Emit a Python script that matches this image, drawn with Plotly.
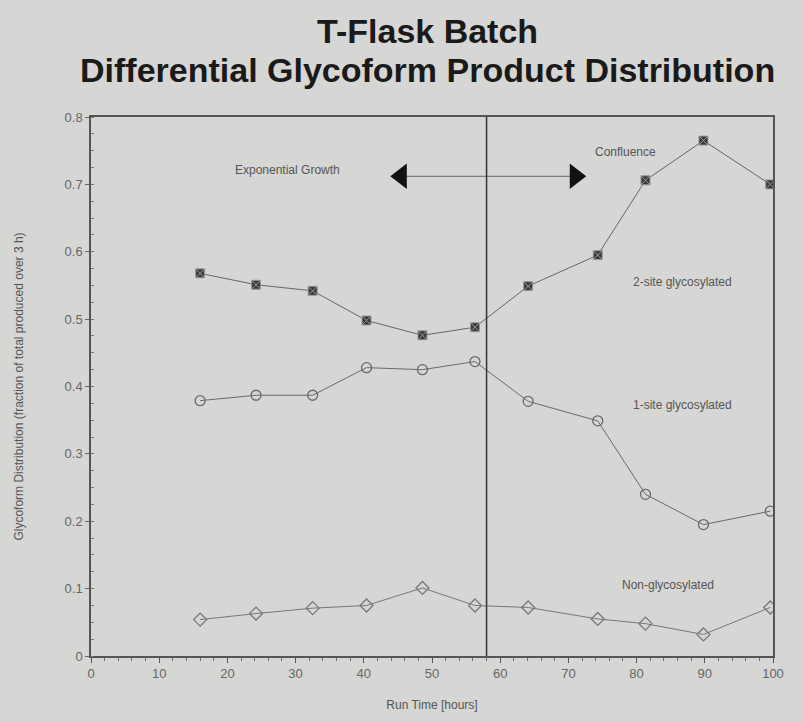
import plotly.graph_objects as go

run_time = [16.0, 24.2, 32.5, 40.4, 48.6, 56.3, 64.1, 74.3, 81.3, 89.8, 99.6]
two_site = [0.568, 0.551, 0.542, 0.498, 0.476, 0.488, 0.549, 0.595, 0.706, 0.765, 0.700]
one_site = [0.379, 0.387, 0.387, 0.428, 0.425, 0.437, 0.378, 0.349, 0.240, 0.195, 0.215]
non_glyc = [0.054, 0.063, 0.071, 0.075, 0.101, 0.075, 0.072, 0.055, 0.048, 0.032, 0.072]

confluence_time = 58.0
arrow_x = [45.5, 71.0]
arrow_y = 0.712

ink = "#555555"
bg = "#d6d6d4"
sans = "Liberation Sans, Arial, sans-serif"

fig = go.Figure()

fig.add_trace(go.Scatter(
    x=run_time, y=two_site, mode="lines+markers",
    line=dict(color="#666666", width=1),
    marker=dict(symbol="square-x", size=9, color="#3a3a3a",
                line=dict(color="#9a9a9a", width=1)),
    showlegend=False))
fig.add_trace(go.Scatter(
    x=run_time, y=one_site, mode="lines+markers",
    line=dict(color="#6a6a6a", width=1),
    marker=dict(symbol="circle-open", size=10, color="#6a6a6a",
                line=dict(width=1.3)),
    showlegend=False))
fig.add_trace(go.Scatter(
    x=run_time, y=non_glyc, mode="lines+markers",
    line=dict(color="#777777", width=1),
    marker=dict(symbol="diamond-open", size=10, color="#777777",
                line=dict(width=1.3)),
    showlegend=False))

# double arrow
fig.add_trace(go.Scatter(
    x=arrow_x, y=[arrow_y, arrow_y], mode="lines",
    line=dict(color="#666666", width=1), showlegend=False, hoverinfo="skip"))
fig.add_trace(go.Scatter(
    x=[arrow_x[0]], y=[arrow_y], mode="markers",
    marker=dict(symbol="triangle-left", size=22, color="#111111"),
    showlegend=False, hoverinfo="skip"))
fig.add_trace(go.Scatter(
    x=[arrow_x[1]], y=[arrow_y], mode="markers",
    marker=dict(symbol="triangle-right", size=22, color="#111111"),
    showlegend=False, hoverinfo="skip"))

fig.add_shape(type="line", x0=confluence_time, x1=confluence_time, y0=0, y1=0.8,
              xref="x", yref="y", line=dict(color="#333333", width=1.5))

ann_font = dict(family=sans, size=12, color="#555555")
fig.add_annotation(x=28.8, y=0.722, text="Exponential Growth", showarrow=False, font=ann_font)
fig.add_annotation(x=78.3, y=0.748, text="Confluence", showarrow=False, font=ann_font)
fig.add_annotation(x=86.8, y=0.555, text="2-site glycosylated", showarrow=False, font=ann_font)
fig.add_annotation(x=86.8, y=0.372, text="1-site glycosylated", showarrow=False, font=ann_font)
fig.add_annotation(x=84.6, y=0.105, text="Non-glycosylated", showarrow=False, font=ann_font)

title_font = dict(family=sans, size=30, color="#1a1a1a")
fig.add_annotation(xref="paper", yref="paper", x=0.4927, y=1.1236,
                   text=("<span style='font-size:34px'><b>T-Flask Batch</b></span><br>"
                         "<span style='font-size:34px'><b>Differential Glycoform Product Distribution</b></span>"),
                   showarrow=False, font=title_font, align="center",
                   xanchor="center", yanchor="middle")

fig.update_layout(
    width=803, height=722,
    paper_bgcolor=bg, plot_bgcolor=bg,
    margin=dict(l=91, r=30, t=117, b=59),
    font=dict(family=sans, color=ink),
)
fig.update_xaxes(range=[0, 100], dtick=10, showgrid=False, zeroline=False,
                 showline=True, linecolor="#555555", linewidth=1.5, mirror=True,
                 ticks="outside", ticklen=5, tickcolor="#555555",
                 minor=dict(dtick=2, ticks="outside", ticklen=3, tickcolor="#666666"),
                 tickfont=dict(family=sans, size=13, color="#666666"),
                 title=dict(text="Run Time [hours]", standoff=20,
                            font=dict(family=sans, size=12, color="#555555")))
fig.update_yaxes(range=[0, 0.8], dtick=0.1, showgrid=False, zeroline=False,
                 showline=True, linecolor="#555555", linewidth=1.5, mirror=True,
                 ticks="outside", ticklen=4, tickcolor="#666666",
                 minor=dict(dtick=0.025, ticks="inside", ticklen=3, tickcolor="#777777"),
                 tickvals=[0, 0.1, 0.2, 0.3, 0.4, 0.5, 0.6, 0.7, 0.8],
                 ticktext=["0", "0.1", "0.2", "0.3", "0.4", "0.5", "0.6", "0.7", "0.8"],
                 tickfont=dict(family=sans, size=13, color="#666666"),
                 title=dict(text="Glycoform Distribution (fraction of total produced over 3 h)",
                            standoff=38,
                            font=dict(family=sans, size=12, color="#555555")))

fig.write_html("out.html", config={"displayModeBar": False},
               post_script="document.body.style.margin='0px';document.body.style.background='#d6d6d4';")
